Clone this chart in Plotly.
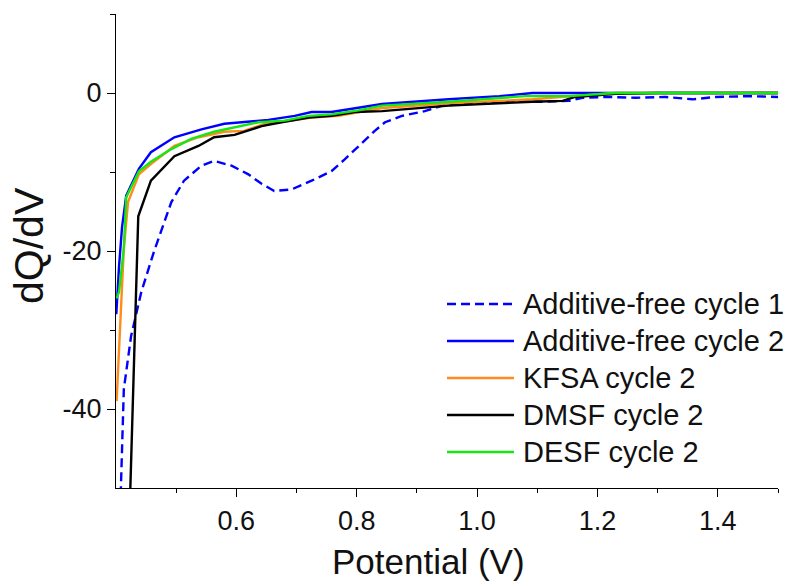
import plotly.graph_objects as go

# ---- data ----
names = ["Additive-free cycle 1", "Additive-free cycle 2", "KFSA cycle 2",
         "DMSF cycle 2", "DESF cycle 2"]

af1_x = [0.405, 0.408, 0.413, 0.425, 0.442, 0.463, 0.492, 0.513, 0.542, 0.563,
         0.592, 0.620, 0.642, 0.663, 0.692, 0.725, 0.758, 0.780, 0.803, 0.830,
         0.847, 0.875, 0.913, 0.942, 0.980, 1.063, 1.108, 1.153, 1.175, 1.220,
         1.263, 1.313, 1.358, 1.397, 1.453, 1.500]
af1_y = [-58.0, -50.0, -37.5, -30.8, -25.2, -20.1, -13.8, -11.1, -9.2, -8.6,
         -9.2, -10.3, -11.5, -12.4, -12.2, -11.1, -9.9, -8.4, -6.7, -4.8,
         -3.7, -2.9, -2.3, -1.6, -1.4, -1.1, -1.1, -1.0, -0.6, -0.5,
         -0.6, -0.5, -0.8, -0.5, -0.4, -0.5]

af2_x = [0.4005, 0.405, 0.410, 0.417, 0.438, 0.458, 0.497, 0.542, 0.580, 0.613,
         0.653, 0.697, 0.725, 0.758, 0.797, 0.842, 0.953, 1.037, 1.092, 1.175,
         1.300, 1.400, 1.500]
af2_y = [-28.0, -22.0, -17.0, -13.0, -9.6, -7.5, -5.6, -4.6, -3.9, -3.7,
         -3.4, -2.9, -2.4, -2.4, -1.9, -1.4, -0.8, -0.4, 0.0, 0.0,
         0.0, 0.0, 0.0]

kfsa_x = [0.401, 0.413, 0.420, 0.438, 0.458, 0.497, 0.537, 0.580, 0.613, 0.647,
          0.692, 0.725, 0.770, 0.803, 0.842, 0.953, 1.092, 1.175, 1.230, 1.300,
          1.400, 1.500]
kfsa_y = [-39.0, -19.7, -13.8, -10.3, -9.0, -6.7, -5.6, -4.9, -4.8, -3.9,
          -3.5, -3.1, -2.9, -2.4, -1.9, -1.3, -0.8, -0.3, 0.0, 0.0,
          0.0, 0.0]

dmsf_x = [0.420, 0.437, 0.458, 0.497, 0.537, 0.563, 0.597, 0.642, 0.675, 0.720,
          0.758, 0.797, 0.842, 0.953, 1.092, 1.142, 1.163, 1.230, 1.300, 1.400,
          1.500]
dmsf_y = [-60.0, -15.6, -11.1, -8.0, -6.7, -5.6, -5.3, -4.2, -3.7, -3.1,
          -2.9, -2.4, -2.3, -1.6, -1.1, -1.0, -0.5, -0.1, 0.0, 0.0,
          0.0]

desf_x = [0.401, 0.405, 0.413, 0.417, 0.438, 0.458, 0.492, 0.525, 0.563, 0.603,
          0.637, 0.680, 0.720, 0.758, 0.803, 0.842, 0.953, 1.080, 1.153, 1.230,
          1.300, 1.400, 1.500]
desf_y = [-26.0, -25.2, -19.7, -13.2, -9.9, -8.7, -7.1, -5.8, -4.9, -4.3,
          -3.7, -3.5, -2.9, -2.7, -2.2, -1.6, -1.1, -0.4, -0.4, 0.0,
          0.0, 0.0, 0.0]

xs = [af1_x, af2_x, kfsa_x, dmsf_x, desf_x]
ys = [af1_y, af2_y, kfsa_y, dmsf_y, desf_y]
colors = ["#0000FF", "#0000FF", "#FF8C1A", "#000000", "#16E616"]
dashes = ["9px,5px", "solid", "solid", "solid", "solid"]

x_ticks = [0.6, 0.8, 1.0, 1.2, 1.4]
x_tick_text = ["0.6", "0.8", "1.0", "1.2", "1.4"]
x_minor = [0.5, 0.7, 0.9, 1.1, 1.3, 1.5]
y_ticks = [-40, -20, 0]
y_tick_text = ["-40", "-20", "0"]
y_minor = [-30, -10, 10]

FONT = "Liberation Sans, Arial, sans-serif"

fig = go.Figure()
for n, x, y, c, d in zip(names, xs, ys, colors, dashes):
    fig.add_trace(go.Scatter(x=x, y=y, mode="lines", name=n, showlegend=False,
                             line=dict(color=c, width=2.4, dash=d)))

W, H = 796, 586
L, R, T, B = 116, 18, 14, 98
pw, ph = W - L - R, H - T - B

def px_x(p):
    return (p - L) / pw

def px_y(p):
    return (H - B - p) / ph

# manual legend (long line samples as in the reference)
shapes = []
annotations = []
row0, gap = 304, 37
for i, (n, c, d) in enumerate(zip(names, colors, dashes)):
    yy = px_y(row0 + i * gap)
    shapes.append(dict(type="line", xref="paper", yref="paper",
                       x0=px_x(447), x1=px_x(514), y0=yy, y1=yy,
                       line=dict(color=c, width=2.4, dash=d)))
    annotations.append(dict(text=n, xref="paper", yref="paper",
                            x=px_x(521), y=yy, xanchor="left", yanchor="middle",
                            showarrow=False, font=dict(size=29, color="#111", family=FONT)))

annotations.append(dict(text="Potential (V)", xref="paper", yref="paper",
                        x=px_x(428), y=px_y(561), xanchor="center", yanchor="middle",
                        showarrow=False, font=dict(size=35, color="#111", family=FONT)))
annotations.append(dict(text="dQ/dV", xref="paper", yref="paper", textangle=-90,
                        x=px_x(29), y=px_y(246), xanchor="center", yanchor="middle",
                        showarrow=False, font=dict(size=41, color="#111", family=FONT)))

axis_common = dict(showgrid=False, zeroline=False, showline=True, linecolor="#000",
                   linewidth=1.3, ticks="outside", tickcolor="#000", tickwidth=1.3,
                   ticklen=8, tickfont=dict(size=27, color="#111", family=FONT))

fig.update_layout(
    width=W, height=H, margin=dict(l=L, r=R, t=T, b=B),
    paper_bgcolor="white", plot_bgcolor="white",
    xaxis=dict(range=[0.4, 1.5], tickvals=x_ticks, ticktext=x_tick_text,
               minor=dict(tickvals=x_minor, ticklen=4, tickcolor="#000", tickwidth=1.3,
                          ticks="outside"),
               **axis_common),
    yaxis=dict(range=[-50, 10], tickvals=y_ticks, ticktext=y_tick_text,
               minor=dict(tickvals=y_minor, ticklen=5, tickcolor="#000", tickwidth=1.3,
                          ticks="outside"),
               **axis_common),
    shapes=shapes, annotations=annotations, showlegend=False,
)

fig.write_html("out.html")
